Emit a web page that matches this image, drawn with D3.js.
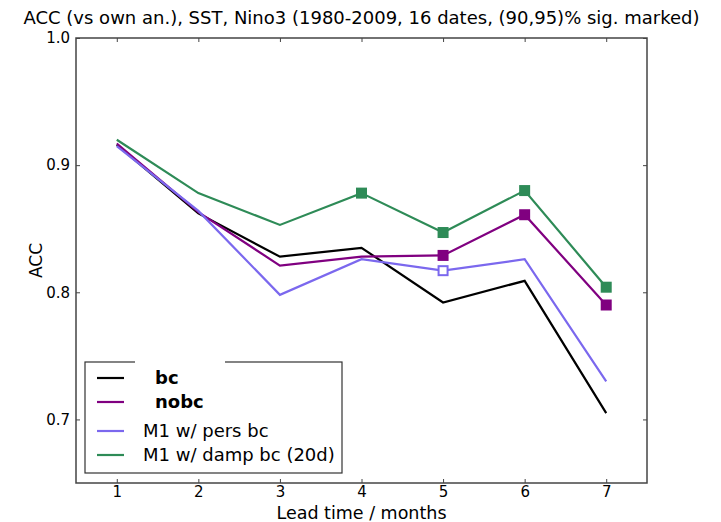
<!DOCTYPE html>
<html>
<head>
<meta charset="utf-8">
<script src="https://cdn.jsdelivr.net/npm/d3@7"></script>
<style>
  body { margin: 0; background: #fff; }
  svg text { font-family: "DejaVu Sans", sans-serif; fill: #000; }
</style>
</head>
<body>
<div id="chart"></div>
<script>
const width = 721;
const height = 522;

// lead times (months)
const leads = [1, 2, 3, 4, 5, 6, 7];

// ACC per series
const bcValues     = [0.916, 0.862, 0.828, 0.835, 0.792, 0.809, 0.705];
const nobcValues   = [0.917, 0.863, 0.821, 0.828, 0.829, 0.861, 0.790];
const persValues   = [0.915, 0.864, 0.798, 0.826, 0.817, 0.826, 0.730];
const dampValues   = [0.920, 0.878, 0.853, 0.878, 0.847, 0.880, 0.804];

// significance per point: 0 none, 1 = 90% (open marker), 2 = 95% (filled marker)
const bcSig   = [0, 0, 0, 0, 0, 0, 0];
const nobcSig = [0, 0, 0, 0, 2, 2, 2];
const persSig = [0, 0, 0, 0, 1, 0, 0];
const dampSig = [0, 0, 0, 2, 2, 2, 2];

const seriesNames = ["bc", "nobc", "M1 w/ pers bc", "M1 w/ damp bc (20d)"];
const seriesColors = ["#000000", "#800080", "#7b68ee", "#2e8b57"];
const boldNames = [true, true, false, false];

const yTicks = [0.7, 0.8, 0.9, 1.0];

const series = [
  { values: bcValues, sig: bcSig },
  { values: nobcValues, sig: nobcSig },
  { values: persValues, sig: persSig },
  { values: dampValues, sig: dampSig }
].map((s, i) => Object.assign(s, { name: seriesNames[i], color: seriesColors[i], bold: boldNames[i] }));

const margin = { top: 38, right: 74, bottom: 39, left: 76 };
const innerW = width - margin.left - margin.right;
const innerH = height - margin.top - margin.bottom;

const x = d3.scaleLinear().domain([0.5, 7.5]).range([0, innerW]);
const y = d3.scaleLinear().domain([0.65, 1.0]).range([innerH, 0]);

const svg = d3.select("#chart").append("svg")
  .attr("width", width)
  .attr("height", height);

const g = svg.append("g")
  .attr("transform", `translate(${margin.left},${margin.top})`);

// axes, ticks pointing inward like old matplotlib
const tickLen = 4;
const xBottom = g.append("g").attr("transform", `translate(0,${innerH})`)
  .call(d3.axisBottom(x).tickValues(leads).tickSize(-tickLen).tickPadding(3).tickFormat(d3.format("d")));
const xTop = g.append("g")
  .call(d3.axisTop(x).tickValues(leads).tickSize(-tickLen).tickFormat(""));
const yLeft = g.append("g")
  .call(d3.axisLeft(y).tickValues(yTicks).tickSize(-tickLen).tickPadding(6).tickFormat(d3.format(".1f")));
const yRight = g.append("g").attr("transform", `translate(${innerW},0)`)
  .call(d3.axisRight(y).tickValues(yTicks).tickSize(-tickLen).tickFormat(""));

[xBottom, xTop, yLeft, yRight].forEach(a => {
  a.select(".domain").remove();
  a.selectAll(".tick line").attr("stroke", "#444").attr("stroke-width", 1);
  a.selectAll(".tick text").attr("font-size", 15).attr("font-family", "DejaVu Sans, sans-serif");
});

// frame
g.append("rect")
  .attr("width", innerW)
  .attr("height", innerH)
  .attr("fill", "none")
  .attr("stroke", "#444")
  .attr("stroke-width", 1.5);

// lines
const line = d3.line()
  .x((d, i) => x(leads[i]))
  .y(d => y(d));

series.forEach(s => {
  g.append("path")
    .datum(s.values)
    .attr("fill", "none")
    .attr("stroke", s.color)
    .attr("stroke-width", 2.2)
    .attr("stroke-linejoin", "miter")
    .attr("d", line);
});

// significance markers
const mSize = 11;
series.forEach(s => {
  const pts = s.values.map((v, i) => ({ x: leads[i], v, sig: s.sig[i] })).filter(d => d.sig > 0);
  g.selectAll(null)
    .data(pts)
    .enter().append("rect")
    .attr("x", d => x(d.x) - (d.sig === 2 ? mSize / 2 : (mSize - 2) / 2))
    .attr("y", d => y(d.v) - (d.sig === 2 ? mSize / 2 : (mSize - 2) / 2))
    .attr("width", d => d.sig === 2 ? mSize : mSize - 2)
    .attr("height", d => d.sig === 2 ? mSize : mSize - 2)
    .attr("fill", d => d.sig === 2 ? s.color : "#fff")
    .attr("stroke", s.color)
    .attr("stroke-width", d => d.sig === 2 ? 0 : 2);
});

// legend
const legend = g.append("g").attr("transform", `translate(${85 - margin.left},${362 - margin.top})`);
legend.append("rect")
  .attr("width", 257)
  .attr("height", 111)
  .attr("fill", "#fff")
  .attr("stroke", "#333")
  .attr("stroke-width", 1.2);
// white patch behind the bold labels cuts the top of the frame
legend.append("rect")
  .attr("x", 50)
  .attr("y", -4)
  .attr("width", 90)
  .attr("height", 8)
  .attr("fill", "#fff");

const rowY = [16, 40, 69, 93];
series.forEach((s, i) => {
  const row = legend.append("g").attr("transform", `translate(0,${rowY[i]})`);
  row.append("line")
    .attr("x1", 12).attr("x2", 39)
    .attr("stroke", s.color)
    .attr("stroke-width", 2.2);
  row.append("text")
    .attr("x", s.bold ? 70 : 58)
    .attr("dy", "0.36em")
    .attr("font-size", 18)
    .attr("font-weight", s.bold ? "bold" : "normal")
    .text(s.name);
});

// labels
svg.append("text")
  .attr("x", margin.left + innerW / 2)
  .attr("y", 24)
  .attr("text-anchor", "middle")
  .attr("font-size", 18)
  .text("ACC (vs own an.), SST, Nino3 (1980-2009, 16 dates, (90,95)% sig. marked)");

svg.append("text")
  .attr("x", margin.left + innerW / 2)
  .attr("y", 519)
  .attr("text-anchor", "middle")
  .attr("font-size", 17.5)
  .text("Lead time / months");

svg.append("text")
  .attr("transform", `translate(42,${margin.top + innerH / 2}) rotate(-90)`)
  .attr("text-anchor", "middle")
  .attr("font-size", 17)
  .text("ACC");
</script>
</body>
</html>
